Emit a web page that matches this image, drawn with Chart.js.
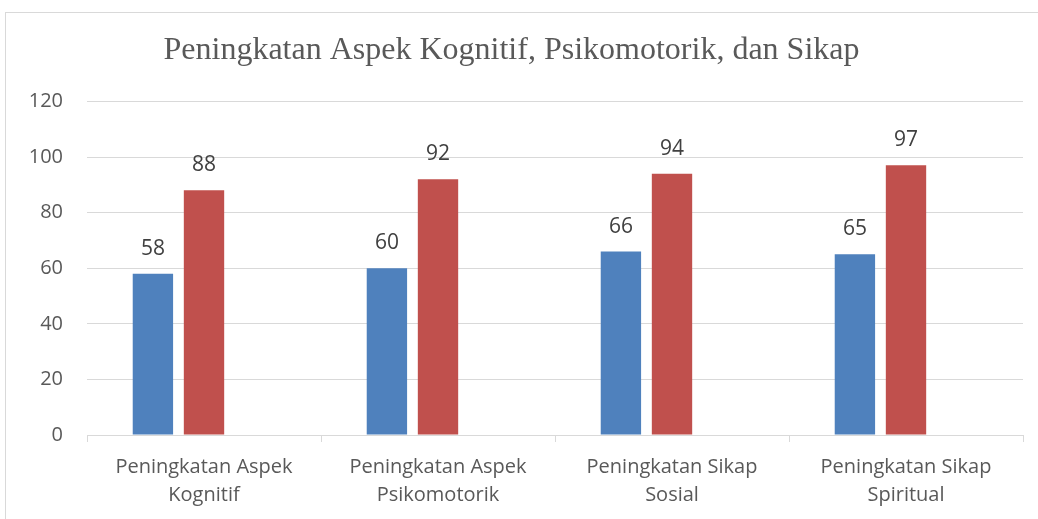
<!DOCTYPE html>
<html>
<head>
<meta charset="utf-8">
<script src="https://cdn.jsdelivr.net/npm/chart.js@4.4.1/dist/chart.umd.min.js"></script>
<style>
    html, body { margin: 0; padding: 0; background: #fff; }
    #wrap { position: relative; width: 1038px; height: 519px; overflow: hidden; }
    #frame { position: absolute; left: 5px; top: 12px; width: 1040px; height: 520px; border: 1px solid #d9d9d9; box-sizing: border-box; }
    canvas { position: absolute; left: 0; top: 0; }
</style>
</head>
<body>
<div id="wrap">
    <div id="frame"></div>
    <canvas id="chart" width="1038" height="519"></canvas>
</div>
<script>
// chart data
const categories = [
    ['Peningkatan Aspek', 'Kognitif'],
    ['Peningkatan Aspek', 'Psikomotorik'],
    ['Peningkatan Sikap', 'Sosial'],
    ['Peningkatan Sikap', 'Spiritual']
];
const seriesBefore = [58, 60, 66, 65];
const seriesAfter = [88, 92, 94, 97];
const seriesEmpty = [null, null, null, null]; // empty third series in the original, keeps the bars left of centre
const yTicks = [0, 20, 40, 60, 80, 100, 120];

const titleText = 'Peningkatan Aspek Kognitif, Psikomotorik, dan Sikap';
const sansFont = "'Open Sans', sans-serif";

// draws the value above each bar
const valueLabels = {
    id: 'valueLabels',
    afterDatasetsDraw(chart) {
        const ctx = chart.ctx;
        ctx.save();
        ctx.font = '21px ' + sansFont;
        ctx.fillStyle = '#404040';
        ctx.textAlign = 'center';
        ctx.textBaseline = 'middle';
        chart.data.datasets.forEach((ds, i) => {
            const meta = chart.getDatasetMeta(i);
            meta.data.forEach((bar, j) => {
                const v = ds.data[j];
                if (v === null || v === undefined) return;
                ctx.fillText(String(v), bar.x, bar.y - 25);
            });
        });
        ctx.restore();
    }
};

const ctx = document.getElementById('chart').getContext('2d');
const chart = new Chart(ctx, {
    type: 'bar',
    data: {
        labels: categories,
        datasets: [
            { label: 'Sebelum', data: seriesBefore, backgroundColor: '#4F81BD' },
            { label: 'Sesudah', data: seriesAfter, backgroundColor: '#C0504D' },
            { label: '', data: seriesEmpty, backgroundColor: 'rgba(0,0,0,0)' }
        ]
    },
    options: {
        responsive: false,
        animation: false,
        layout: { padding: { left: 0, right: 15, top: 0, bottom: 0 } },
        datasets: {
            bar: { barPercentage: 0.79, categoryPercentage: 0.655 }
        },
        plugins: {
            legend: { display: false },
            tooltip: { enabled: false },
            title: {
                display: true,
                text: titleText,
                color: '#595959',
                font: { family: "'Liberation Serif', 'Times New Roman', serif", size: 32, weight: 'normal', lineHeight: 1.2 },
                padding: { top: 31, bottom: 32 }
            }
        },
        scales: {
            x: {
                grid: {
                    display: true,
                    drawOnChartArea: false,
                    drawTicks: true,
                    tickLength: 7,
                    color: '#d9d9d9',
                    offset: true
                },
                border: { display: true, color: '#d9d9d9', width: 1 },
                ticks: {
                    color: '#595959',
                    font: { family: sansFont, size: 20, lineHeight: 1.4 },
                    padding: 11,
                    maxRotation: 0,
                    autoSkip: false
                },
                afterFit(scale) { scale.height = 84; }
            },
            y: {
                min: 0,
                max: 120,
                grid: { color: '#d9d9d9', drawTicks: false, lineWidth: 1 },
                border: { display: false },
                afterBuildTicks(scale) {
                    scale.ticks = yTicks.map(v => ({ value: v }));
                },
                ticks: {
                    color: '#595959',
                    font: { family: sansFont, size: 20 },
                    padding: 24
                },
                afterFit(scale) { scale.width = 87; }
            }
        }
    },
    plugins: [valueLabels]
});
</script>
</body>
</html>
